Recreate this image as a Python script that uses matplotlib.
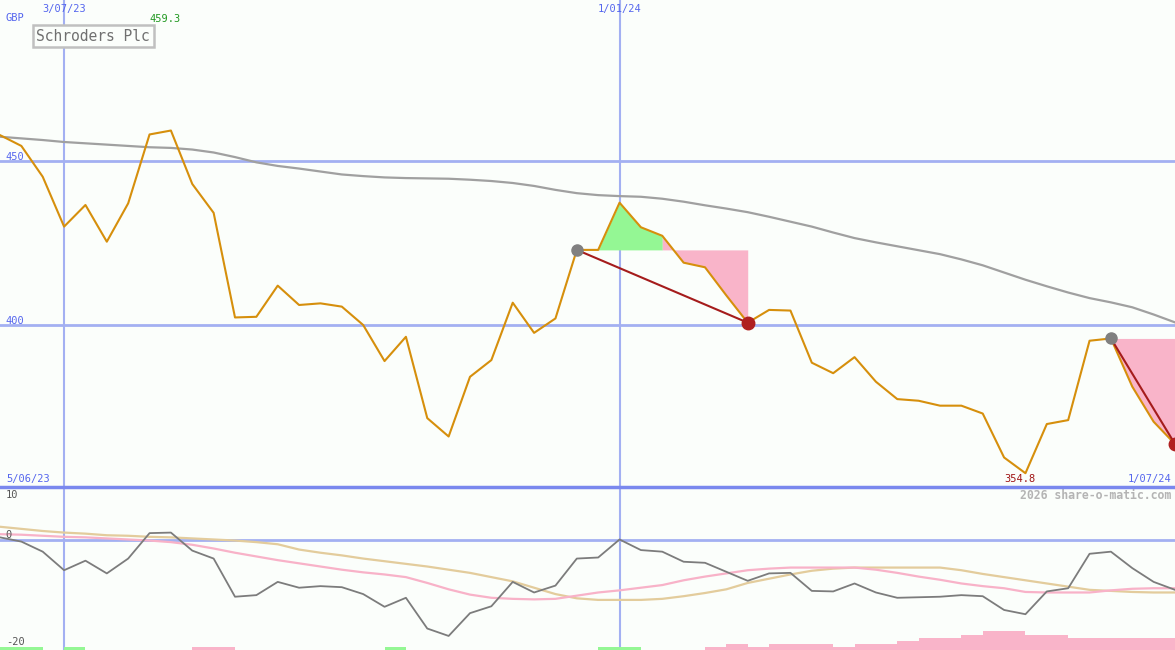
import numpy as np
import pandas as pd
import matplotlib
matplotlib.use("Agg")
import matplotlib.pyplot as plt
import matplotlib.dates as mdates
import matplotlib.transforms as mtrans

# weekly closes, Schroders Plc (GBP)
weeks = pd.date_range("2023-06-12", periods=56, freq="W-MON")
price = [457.9, 454.6, 445.2, 430.0, 436.6, 425.4, 437.1, 458.1, 459.3, 443.0,
         434.2, 402.3, 402.5, 412.0, 406.1, 406.6, 405.6, 400.0, 389.0, 396.4,
         371.6, 366.0, 384.2, 389.3, 406.8, 397.6, 402.0, 422.9, 422.9, 437.3,
         429.8, 427.2, 419.0, 417.6, 409.0, 400.7, 404.6, 404.4, 388.5, 385.3,
         390.2, 382.7, 377.4, 376.9, 375.4, 375.4, 373.0, 359.6, 354.8, 369.8,
         371.0, 395.2, 395.9, 381.2, 370.5, 363.7]
long_ma = [457.4, 456.9, 456.4, 455.8, 455.4, 455.0, 454.6, 454.2, 454.0, 453.5,
           452.6, 451.2, 449.6, 448.5, 447.7, 446.8, 445.9, 445.4, 445.0, 444.8,
           444.7, 444.6, 444.3, 443.9, 443.3, 442.4, 441.2, 440.2, 439.6, 439.3,
           439.1, 438.5, 437.6, 436.5, 435.5, 434.4, 433.0, 431.5, 430.0, 428.2,
           426.5, 425.2, 424.0, 422.8, 421.6, 420.0, 418.2, 416.0, 413.8, 411.8,
           409.9, 408.2, 406.9, 405.4, 403.2, 400.8]

# indicator panel
momentum = [0.5, -0.3, -2.2, -5.7, -3.9, -6.3, -3.5, 1.3, 1.4, -2.0,
            -3.5, -10.7, -10.4, -7.9, -9.0, -8.7, -8.9, -10.2, -12.6, -10.9,
            -16.7, -18.1, -13.8, -12.5, -7.9, -9.9, -8.6, -3.5, -3.3, 0.1,
            -1.9, -2.2, -4.1, -4.3, -6.0, -7.7, -6.3, -6.2, -9.6, -9.7,
            -8.2, -9.9, -10.9, -10.8, -10.7, -10.4, -10.6, -13.2, -14.0, -9.7,
            -9.1, -2.6, -2.2, -5.3, -7.9, -9.4]
signal_pink = [1.1, 1.0, 0.8, 0.6, 0.5, 0.3, 0.1, -0.1, -0.4, -0.9,
               -1.6, -2.4, -3.1, -3.8, -4.4, -5.0, -5.6, -6.1, -6.5, -7.0,
               -8.1, -9.3, -10.3, -10.9, -11.1, -11.2, -11.1, -10.5, -9.9, -9.5,
               -9.0, -8.5, -7.6, -6.9, -6.3, -5.7, -5.4, -5.2, -5.2, -5.2,
               -5.2, -5.6, -6.2, -6.9, -7.5, -8.2, -8.7, -9.1, -9.8, -9.9,
               -9.9, -9.9, -9.5, -9.2, -9.1, -9.1]
signal_tan = [2.5, 2.1, 1.7, 1.4, 1.2, 0.9, 0.8, 0.6, 0.5, 0.3,
              0.1, -0.1, -0.4, -0.8, -1.8, -2.4, -2.9, -3.5, -4.0, -4.5,
              -5.0, -5.6, -6.2, -7.0, -7.8, -9.0, -10.2, -11.0, -11.3, -11.3,
              -11.3, -11.1, -10.6, -10.0, -9.3, -8.1, -7.3, -6.5, -5.8, -5.4,
              -5.2, -5.2, -5.2, -5.2, -5.2, -5.7, -6.4, -7.0, -7.6, -8.2,
              -8.8, -9.4, -9.6, -9.8, -9.9, -9.9]
# bottom strength bars: + green, - pink
strength = [0.6, 0.6, 0, 0.6, 0, 0, 0, 0, 0, -0.6,
            -0.6, 0, 0, 0, 0, 0, 0, 0, 0.6, 0,
            0, 0, 0, 0, 0, 0, 0, 0, 0.6, 0.6,
            0, 0, 0, -0.6, -1.1, -0.6, -1.1, -1.1, -1.1, -0.6,
            -1.1, -1.1, -1.7, -2.3, -2.3, -2.8, -3.6, -3.6, -2.8, -2.8,
            -2.3, -2.3, -2.3, -2.3, -2.3, 0]

# trades: entry week, last "gain" week, exit week
entries = [27, 52]
gain_end = [31, 52]
exits = [35, 55]

BG = "#fbfefb"
BLUE = "#5566ee"
GRID = "#a3b0f2"
MONO = "DejaVu Sans Mono"

x = mdates.date2num(weeks.to_pydatetime())
p = np.array(price)

fig = plt.figure(figsize=(11.75, 6.5), dpi=100, facecolor=BG)
ax = fig.add_axes([0, 163 / 650, 1, 487 / 650], facecolor=BG)
ax2 = fig.add_axes([0, 0, 1, 163 / 650], facecolor=BG)

vlines = ["2023-07-03", "2024-01-01"]
vl_x = mdates.date2num([pd.Timestamp(d) for d in vlines])

for a in (ax, ax2):
    a.set_xlim(x[0], x[-1])
    a.set_xticks([])
    a.set_yticks([])
    for s in a.spines.values():
        s.set_visible(False)
    for v in vl_x:
        a.axvline(v, color=GRID, lw=1.5, zorder=1)

# ---- price panel ----
ax.set_ylim(350.6, 499.1)
for lvl in (450, 400):
    ax.axhline(lvl, color=GRID, lw=2, zorder=1)
ax.plot(x, long_ma, color="#a0a0a0", lw=1.6, zorder=2)

for e, g, q in zip(entries, gain_end, exits):
    lvl = price[e]
    if g > e:
        ax.fill_between(x[e:g + 1], p[e:g + 1], lvl, color="#94f794", lw=0, zorder=2)
    ax.fill_between(x[g:q + 1], p[g:q + 1], lvl, color="#f9b4c9", lw=0, zorder=2)

ax.plot(x, p, color="#d68f0c", lw=1.5, zorder=3)

for e, q in zip(entries, exits):
    ax.plot([x[e], x[q]], [price[e], price[q]], color="#a51c1c", lw=1.5, zorder=4)
    ax.plot(x[e], price[e], "o", color="#808080", ms=8, zorder=5, clip_on=False)
    ax.plot(x[q], price[q], "o", color="#b02020", ms=9, zorder=5, clip_on=False)

top = mtrans.blended_transform_factory(ax.transData, ax.transAxes)
for v, lab in zip(vl_x, ["3/07/23", "1/01/24"]):
    ax.text(v, 0.992, lab, transform=top, ha="center",
            va="top", color=BLUE, fontsize=7.5, family=MONO)
imax = int(np.argmax(p))
imin = int(np.argmin(p))
ax.annotate(f"{price[imax]:.1f}", xy=(x[imax], 0.961), xycoords=top,
            xytext=(-6, 0), textcoords="offset pixels", ha="center", va="center",
            color="#229922", fontsize=7.5, family=MONO)
ax.annotate(f"{price[imin]:.1f}", xy=(x[imin], 0.016), xycoords=top,
            xytext=(-6, 0), textcoords="offset pixels", ha="center", va="center",
            color="#a01515", fontsize=7.5, family=MONO)

left = mtrans.blended_transform_factory(ax.transAxes, ax.transData)
for lvl in (450, 400):
    ax.text(0.005, lvl + 1.3, str(lvl), transform=left, ha="left", va="center",
            color=BLUE, fontsize=7.5, family=MONO)
ax.text(0.005, 0.963, "GBP", transform=ax.transAxes, ha="left", va="center",
        color=BLUE, fontsize=7.5, family=MONO)
ax.text(0.005, 0.016, "5/06/23", transform=ax.transAxes, ha="left", va="center",
        color=BLUE, fontsize=7.5, family=MONO)
ax.text(0.997, 0.016, "1/07/24", transform=ax.transAxes, ha="right", va="center",
        color=BLUE, fontsize=7.5, family=MONO)
ax.text(0.031, 0.926, "Schroders Plc", transform=ax.transAxes, ha="left", va="center",
        color="#707070", fontsize=10.5, family=MONO,
        bbox=dict(boxstyle="square,pad=0.25", fc=BG, ec="#c0c0c0", lw=1.8))

# ---- indicator panel ----
ax2.set_ylim(-20.75, 10.0)
ax2.axhline(0, color=GRID, lw=2, zorder=1)
ax2.axhline(10.0, color="#7a88ee", lw=2.5, zorder=6, clip_on=False)
ax2.plot(x, signal_tan, color="#e3cc9c", lw=1.6, zorder=2)
ax2.plot(x, signal_pink, color="#f8b2c8", lw=1.6, zorder=2)
ax2.plot(x, momentum, color="#7c7c7c", lw=1.3, zorder=3)

s = np.array(strength)
bar_cols = ["#94f794" if v > 0 else "#f9b4c9" for v in s]
ax2.bar(x, np.abs(s), width=7, bottom=-20.75, align="edge", color=bar_cols, lw=0, zorder=2)

ax2.text(0.005, 0.95, "10", transform=ax2.transAxes, ha="left", va="center",
         color="#555555", fontsize=7.5, family=MONO)
lft2 = mtrans.blended_transform_factory(ax2.transAxes, ax2.transData)
ax2.text(0.005, 1.0, "0", transform=lft2, ha="left", va="center",
         color="#555555", fontsize=7.5, family=MONO)
ax2.text(0.005, 0.05, "-20", transform=ax2.transAxes, ha="left", va="center",
         color="#555555", fontsize=7.5, family=MONO)
ax2.text(0.997, 0.945, "2026 share-o-matic.com", transform=ax2.transAxes, ha="right",
         va="center", color="#b4b4b4", fontsize=8.3, family=MONO, fontweight="bold")

fig.savefig("out.png", dpi=100, facecolor=BG)
